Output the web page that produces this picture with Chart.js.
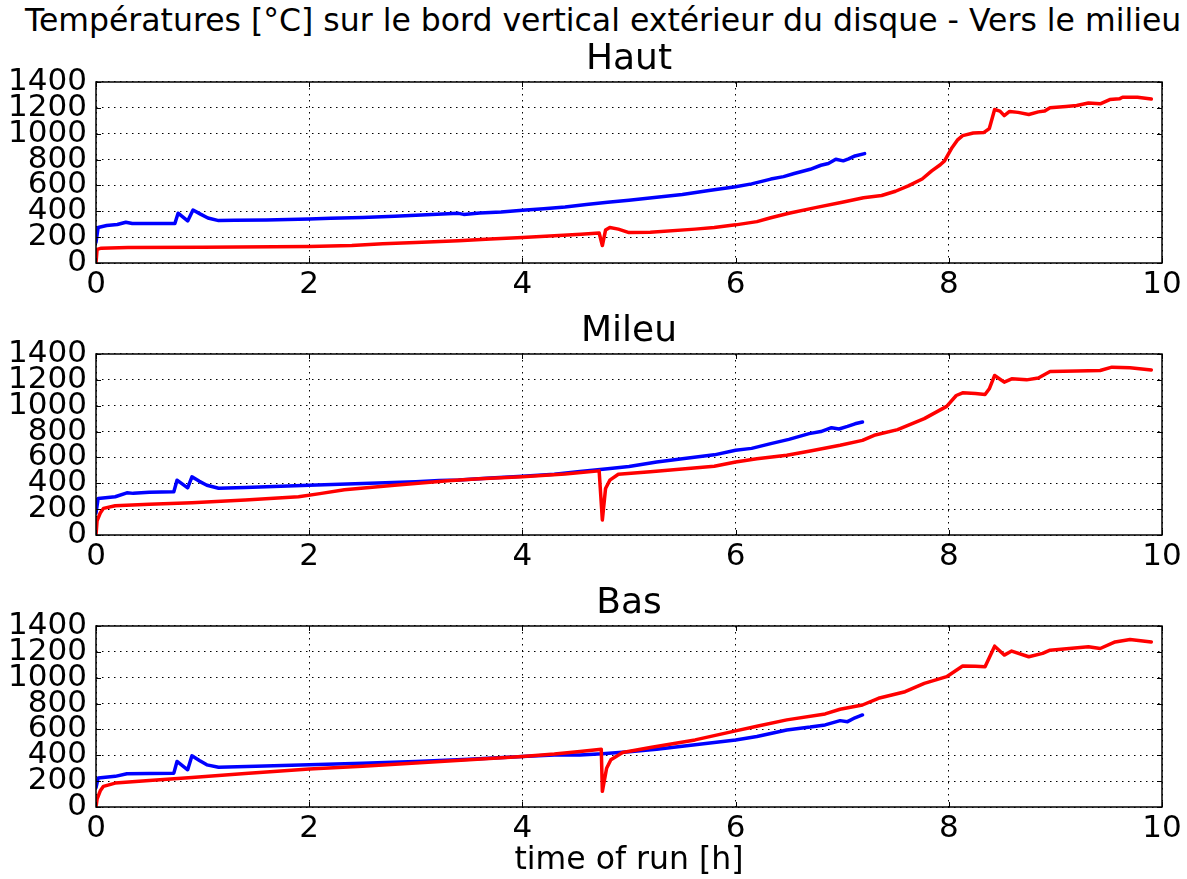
<!DOCTYPE html>
<html>
<head>
<meta charset="utf-8">
<script src="https://cdn.jsdelivr.net/npm/chart.js@4.4.1/dist/chart.umd.min.js"></script>
<style>
  body { margin: 0; background: #fff; width: 1187px; height: 879px; overflow: hidden; position: relative; font-family: 'DejaVu Sans', sans-serif; }
  #titre { position: absolute; left: 25px; top: 5px; font-size: 31.5px; line-height: 31.5px; white-space: nowrap; color: #000; }
  .bloc { position: absolute; left: 0; }
</style>
</head>
<body>
<div id="titre">Températures [°C] sur le bord vertical extérieur du disque - Vers le milieu</div>
<div class="bloc" style="top:35px"><canvas id="chartHaut" width="1187" height="268"></canvas></div>
<div class="bloc" style="top:307px"><canvas id="chartMileu" width="1187" height="268"></canvas></div>
<div class="bloc" style="top:579px"><canvas id="chartBas" width="1187" height="300"></canvas></div>
<script>
const xTicks = [0, 2, 4, 6, 8, 10];
const yTicks = [0, 200, 400, 600, 800, 1000, 1200, 1400];
const sousTitres = ['Haut', 'Mileu', 'Bas'];
const xLabel = 'time of run [h]';

// Haut
const hautRougeT = [0, 0.01, 0.05, 0.3, 1.0, 2.0, 2.4, 2.69, 3.0, 3.4, 3.7, 4.0, 4.3, 4.55, 4.72, 4.75, 4.78, 4.82, 4.9, 5.0, 5.2, 5.62, 5.8, 6.0, 6.2, 6.33, 6.5, 6.76, 7.0, 7.2, 7.37, 7.5, 7.62, 7.75, 7.84, 7.92, 7.96, 8.03, 8.08, 8.13, 8.23, 8.33, 8.38, 8.43, 8.48, 8.52, 8.57, 8.65, 8.75, 8.84, 8.9, 8.95, 9.1, 9.2, 9.31, 9.42, 9.51, 9.6, 9.63, 9.77, 9.9];
const hautRougeV = [0, 105, 115, 120, 122, 128, 135, 148, 158, 172, 185, 198, 210, 222, 232, 135, 255, 275, 262, 235, 238, 262, 275, 295, 320, 350, 385, 430, 470, 505, 522, 555, 597, 650, 713, 760, 790, 892, 950, 985, 1005, 1010, 1040, 1187, 1175, 1140, 1172, 1165, 1149, 1169, 1175, 1200, 1210, 1218, 1238, 1231, 1264, 1270, 1282, 1282, 1269];
const hautBleuT = [0, 0.02, 0.1, 0.2, 0.28, 0.34, 0.5, 0.74, 0.77, 0.86, 0.91, 0.98, 1.05, 1.15, 1.3, 1.6, 2.0, 2.2, 2.5, 2.8, 3.05, 3.3, 3.4, 3.45, 3.6, 3.8, 4.0, 4.2, 4.4, 4.6, 4.8, 5.0, 5.26, 5.5, 5.75, 6.0, 6.15, 6.33, 6.45, 6.55, 6.7, 6.8, 6.87, 6.94, 7.01, 7.06, 7.12, 7.21];
const hautBleuV = [160, 275, 290, 298, 315, 305, 305, 305, 385, 325, 410, 378, 348, 328, 330, 333, 340, 346, 352, 362, 372, 380, 384, 376, 386, 395, 408, 420, 433, 452, 470, 485, 508, 530, 560, 590, 612, 649, 668, 692, 725, 756, 770, 803, 790, 805, 828, 846];

// Mileu
const mileuRougeT = [0, 0.01, 0.04, 0.07, 0.18, 0.5, 0.9, 1.4, 1.9, 2.1, 2.33, 2.8, 3.3, 3.6, 4.0, 4.4, 4.72, 4.75, 4.78, 4.82, 4.9, 5.2, 5.5, 5.8, 6.0, 6.2, 6.48, 6.7, 6.98, 7.19, 7.3, 7.52, 7.77, 7.98, 8.07, 8.13, 8.25, 8.34, 8.38, 8.43, 8.52, 8.59, 8.73, 8.84, 8.95, 9.2, 9.42, 9.53, 9.7, 9.9];
const mileuRougeV = [0, 110, 170, 206, 226, 238, 249, 270, 296, 320, 350, 385, 420, 435, 450, 472, 496, 116, 360, 424, 470, 490, 510, 532, 565, 590, 617, 650, 694, 732, 771, 815, 900, 995, 1079, 1100, 1095, 1087, 1131, 1234, 1182, 1208, 1200, 1215, 1265, 1268, 1272, 1298, 1293, 1277];
const mileuBleuT = [0, 0.02, 0.18, 0.29, 0.35, 0.5, 0.73, 0.76, 0.86, 0.9, 0.97, 1.04, 1.15, 1.4, 2.0, 2.5, 3.0, 3.22, 3.4, 3.7, 4.0, 4.3, 4.54, 4.8, 5.0, 5.26, 5.5, 5.8, 6.0, 6.15, 6.33, 6.5, 6.69, 6.8, 6.9, 6.97, 7.05, 7.12, 7.19];
const mileuBleuV = [170, 283, 296, 326, 322, 330, 334, 424, 365, 450, 415, 385, 362, 368, 385, 398, 412, 422, 425, 440, 455, 470, 492, 512, 530, 565, 590, 620, 655, 670, 707, 740, 784, 800, 830, 820, 840, 860, 874];

// Bas
const basRougeT = [0, 0.01, 0.04, 0.07, 0.18, 0.5, 0.9, 1.4, 2.0, 2.5, 3.0, 3.5, 4.0, 4.3, 4.54, 4.74, 4.75, 4.79, 4.83, 4.94, 5.2, 5.62, 6.0, 6.2, 6.48, 6.84, 6.98, 7.19, 7.34, 7.59, 7.77, 7.98, 8.13, 8.25, 8.34, 8.43, 8.52, 8.59, 8.75, 8.88, 8.95, 9.31, 9.42, 9.56, 9.7, 9.9];
const basRougeV = [0, 60, 125, 160, 185, 205, 229, 260, 293, 315, 340, 365, 391, 410, 430, 447, 121, 300, 365, 422, 460, 519, 589, 625, 674, 720, 756, 789, 841, 892, 956, 1008, 1090, 1088, 1085, 1244, 1175, 1206, 1162, 1188, 1213, 1239, 1226, 1277, 1296, 1277];
const basBleuT = [0, 0.02, 0.18, 0.29, 0.5, 0.73, 0.76, 0.86, 0.9, 0.97, 1.04, 1.15, 1.5, 2.0, 2.5, 3.0, 3.5, 4.0, 4.3, 4.54, 4.75, 5.0, 5.26, 5.6, 6.0, 6.2, 6.48, 6.7, 6.84, 6.98, 7.05, 7.12, 7.19];
const basBleuV = [150, 224, 237, 257, 260, 262, 352, 288, 396, 360, 326, 308, 315, 326, 338, 352, 370, 391, 402, 403, 412, 428, 447, 480, 519, 545, 596, 618, 635, 668, 660, 690, 712];

const police = 'DejaVu Sans';

function points(ts, vs) {
  return ts.map((t, i) => ({ x: t, y: vs[i] }));
}

// cadre noir et petits traits de graduation vers l'interieur
const cadre = {
  id: 'cadre',
  afterDatasetsDraw(chart) {
    const ctx = chart.ctx;
    const a = chart.chartArea;
    const sx = chart.scales.x;
    const sy = chart.scales.y;
    ctx.save();
    ctx.strokeStyle = '#000';
    ctx.lineWidth = 1;
    sx.ticks.forEach(t => {
      const px = Math.round(sx.getPixelForValue(t.value)) + 0.5;
      ctx.beginPath();
      ctx.moveTo(px, a.top); ctx.lineTo(px, a.top + 5);
      ctx.moveTo(px, a.bottom); ctx.lineTo(px, a.bottom - 5);
      ctx.stroke();
    });
    sy.ticks.forEach(t => {
      const py = Math.round(sy.getPixelForValue(t.value)) + 0.5;
      ctx.beginPath();
      ctx.moveTo(a.left, py); ctx.lineTo(a.left + 5, py);
      ctx.moveTo(a.right, py); ctx.lineTo(a.right - 5, py);
      ctx.stroke();
    });
    ctx.lineWidth = 1.5;
    ctx.strokeRect(a.left, a.top, a.right - a.left, a.bottom - a.top);
    ctx.restore();
  }
};

function creerGraphe(id, titre, rougeT, rougeV, bleuT, bleuV, avecLabel) {
  const ctx = document.getElementById(id).getContext('2d');
  new Chart(ctx, {
    type: 'line',
    data: {
      datasets: [{
        data: points(rougeT, rougeV),
        borderColor: '#ff0000',
        borderWidth: 3.5,
        pointRadius: 0,
        tension: 0,
        fill: false
      }, {
        data: points(bleuT, bleuV),
        borderColor: '#0000ff',
        borderWidth: 3.5,
        pointRadius: 0,
        tension: 0,
        fill: false
      }]
    },
    options: {
      responsive: false,
      animation: false,
      layout: { padding: { left: 0, right: 25, top: 0, bottom: 0 } },
      plugins: {
        legend: { display: false },
        tooltip: { enabled: false },
        title: {
          display: true,
          fullSize: false,
          text: titre,
          color: '#000',
          font: { family: police, size: 36, weight: 'normal', lineHeight: 1.2 },
          padding: { top: 3, bottom: 0.8 }
        }
      },
      scales: {
        x: {
          type: 'linear',
          min: 0,
          max: 10,
          afterBuildTicks: s => { s.ticks = xTicks.map(v => ({ value: v })); },
          afterFit: s => { s.height = avecLabel ? 72 : 40; },
          border: { display: false, dash: [1.5, 4.5] },
          grid: { color: '#000', lineWidth: 1, drawTicks: false },
          ticks: {
            color: '#000',
            padding: 3,
            maxRotation: 0,
            autoSkip: false,
            callback: v => String(v),
            font: { family: police, size: 31 }
          },
          title: {
            display: avecLabel,
            text: xLabel,
            color: '#000',
            font: { family: police, size: 31.5, lineHeight: 1 },
            padding: { top: 0, bottom: 2 }
          }
        },
        y: {
          min: 0,
          max: 1400,
          afterBuildTicks: s => { s.ticks = yTicks.map(v => ({ value: v })); },
          afterFit: s => { s.width = 96; },
          border: { display: false, dash: [1.5, 4.5] },
          grid: { color: '#000', lineWidth: 1, drawTicks: false },
          ticks: {
            color: '#000',
            padding: 9,
            autoSkip: false,
            callback: v => String(v),
            font: { family: police, size: 31 }
          }
        }
      }
    },
    plugins: [cadre]
  });
}

function init() {
  Chart.defaults.elements.line.borderCapStyle = 'round';
  Chart.defaults.elements.line.borderJoinStyle = 'round';
  creerGraphe('chartHaut', sousTitres[0], hautRougeT, hautRougeV, hautBleuT, hautBleuV, false);
  creerGraphe('chartMileu', sousTitres[1], mileuRougeT, mileuRougeV, mileuBleuT, mileuBleuV, false);
  creerGraphe('chartBas', sousTitres[2], basRougeT, basRougeV, basBleuT, basBleuV, true);
}

window.addEventListener('DOMContentLoaded', init);
</script>
</body>
</html>
